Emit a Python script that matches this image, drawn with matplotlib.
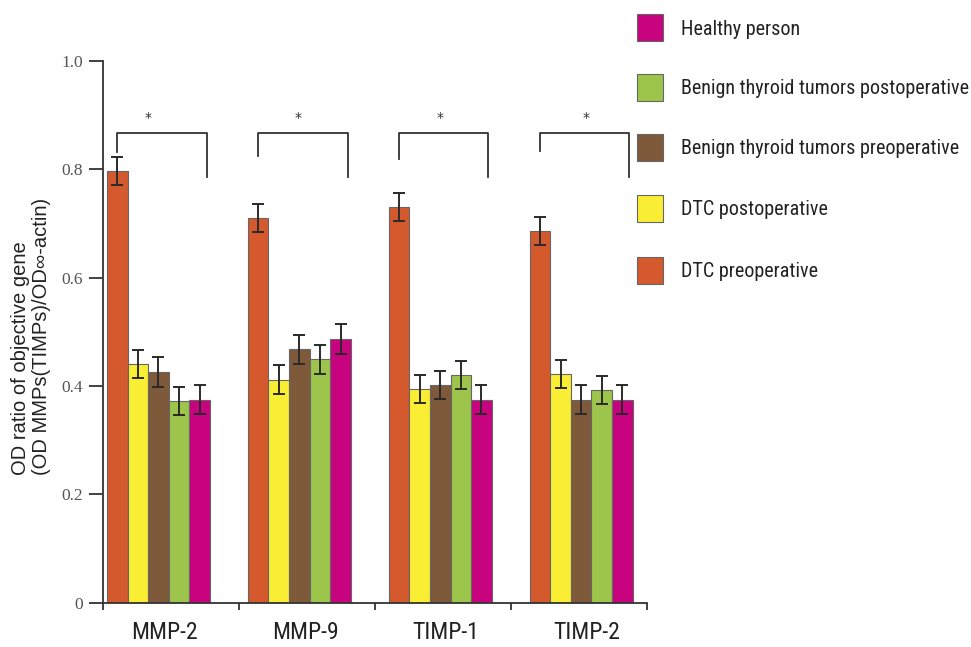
import numpy as np
import matplotlib
matplotlib.use("Agg")
import matplotlib.pyplot as plt
from matplotlib import font_manager
from matplotlib.font_manager import FontProperties
from matplotlib.textpath import TextPath
from matplotlib.patches import Rectangle

genes = ["MMP-2", "MMP-9", "TIMP-1", "TIMP-2"]
groups = ["DTC preoperative", "DTC postoperative",
          "Benign thyroid tumors preoperative",
          "Benign thyroid tumors postoperative", "Healthy person"]
colors = ["#D4592D", "#FAEE35", "#7E5A3B", "#9DC44B", "#C8037F"]

dtc_pre = [0.797, 0.710, 0.730, 0.686]
dtc_post = [0.441, 0.412, 0.394, 0.422]
benign_pre = [0.426, 0.468, 0.402, 0.375]
benign_post = [0.373, 0.449, 0.421, 0.393]
healthy = [0.375, 0.487, 0.375, 0.375]

err_dtc_pre = [0.026, 0.026, 0.026, 0.026]
err_dtc_post = [0.026, 0.026, 0.026, 0.026]
err_benign_pre = [0.027, 0.027, 0.026, 0.026]
err_benign_post = [0.026, 0.026, 0.026, 0.026]
err_healthy = [0.026, 0.027, 0.026, 0.026]

values = [dtc_pre, dtc_post, benign_pre, benign_post, healthy]
errors = [err_dtc_pre, err_dtc_post, err_benign_pre, err_benign_post, err_healthy]

# significance brackets
bracket_top = 0.867
bracket_left_end = [0.832, 0.825, 0.819, 0.834]
bracket_right_end = [0.785, 0.785, 0.785, 0.785]
star_y = 0.895
star_offset = [-0.074, -0.011, 0.0, 0.032]


def pick_narrow():
    # look for a condensed / narrow sans face, else fall back to Liberation Sans
    cands = []
    for f in font_manager.fontManager.ttflist:
        n = f.name.lower()
        st = str(f.stretch).lower()
        if f.style != "normal" or f.weight not in (400, "normal", "regular", "book"):
            continue
        if "mono" in n or "serif" in n and "sans" not in n:
            continue
        if "narrow" in n or "condensed" in n or st in ("condensed", "semi-condensed",
                                                       "extra-condensed", "ultra-condensed"):
            cands.append(f)
    order = ["liberation sans narrow", "roboto condensed", "noto sans", "dejavu sans",
             "open sans"]
    for name in order:
        for f in cands:
            if f.name.lower().startswith(name) and "cjk" not in f.name.lower():
                return FontProperties(fname=f.fname)
    if cands:
        return FontProperties(fname=cands[0].fname)
    return FontProperties(family="Liberation Sans")


narrow = pick_narrow()


def fit_size(s, target_px, max_pt):
    tp = TextPath((0, 0), s, size=100, prop=narrow)
    w_px = tp.get_extents().width * 100 / 72
    return min(max_pt, 100 * target_px / w_px)


fig = plt.figure(figsize=(9.71, 6.47), dpi=100)
ax = fig.add_axes([102.5 / 971, 44.3 / 647, 544.5 / 971, 541.7 / 647])

x = np.arange(len(genes))
w = 0.146
for i in range(5):
    ax.bar(x + (i - 2) * w, values[i], w, color=colors[i],
           edgecolor="#666666", linewidth=0.8, zorder=2)
    ax.errorbar(x + (i - 2) * w, values[i], yerr=errors[i], fmt="none",
                ecolor="#2a2a2a", elinewidth=1.4, capsize=4, capthick=1.4, zorder=3)

for k in range(len(genes)):
    xl = x[k] - 2 * w
    xr = x[k] + 2 * w + 0.05
    ax.plot([xl, xl, xr, xr],
            [bracket_left_end[k], bracket_top, bracket_top, bracket_right_end[k]],
            color="#333333", lw=1.3, zorder=3)
    ax.text(x[k] + star_offset[k], star_y, "*", ha="center", va="center",
            fontsize=10, color="#333333")

ax.set_xlim(-0.397, 3.465)
ax.set_ylim(0, 1.0)
for s in ["top", "right"]:
    ax.spines[s].set_visible(False)
for s in ["left", "bottom"]:
    ax.spines[s].set_color("#333333")
    ax.spines[s].set_linewidth(1.3)

ax.set_yticks([0, 0.2, 0.4, 0.6, 0.8, 1.0])
ax.set_yticklabels(["0", "0.2", "0.4", "0.6", "0.8", "1.0"])
ax.tick_params(axis="y", length=10, width=1.3, color="#333333", pad=4,
               labelsize=12.5, labelcolor="#555555")
for t in ax.get_yticklabels():
    t.set_family("Liberation Serif")

ax.set_xticks(-0.397 + 0.966 * np.arange(5))
ax.set_xticklabels([])
ax.tick_params(axis="x", which="major", length=5, width=1.3, color="#333333")
ax.set_xticks(x + 0.04, minor=True)
ax.set_xticklabels(genes, minor=True)
xsize = fit_size("MMP-2", 64, 20)
ax.tick_params(axis="x", which="minor", length=0, pad=13, labelcolor="#222222")
for t in ax.get_xticklabels(minor=True):
    t.set_fontproperties(narrow)
    t.set_fontsize(xsize)

fig.text(31 / 971, 1 - 475 / 647,
         "OD ratio of objective gene\n(OD MMPs(TIMPs)/OD\u221e-actin)",
         rotation=90, ha="center", va="bottom", multialignment="left",
         fontsize=14.5, color="#222222", family=["Liberation Sans", "DejaVu Sans"],
         linespacing=1.12)

# legend, top to bottom as in the original figure
lsize = fit_size("Benign thyroid tumors postoperative", 287, 18)
cap_px = 0.72 * lsize * 100 / 72
row_centers = [27.5, 87.0, 147.0, 208.0, 270.0]
for r, i in enumerate(range(4, -1, -1)):
    cy = row_centers[r]
    fig.add_artist(Rectangle((637 / 971, 1 - (cy + 13.5) / 647), 26 / 971, 27 / 647,
                             transform=fig.transFigure, facecolor=colors[i],
                             edgecolor="#666666", linewidth=0.8))
    fig.text(681 / 971, 1 - (cy + cap_px / 2) / 647, groups[i], ha="left",
             va="baseline", fontproperties=narrow, fontsize=lsize, color="#222222")

fig.savefig("out.png", dpi=100, facecolor="white")
